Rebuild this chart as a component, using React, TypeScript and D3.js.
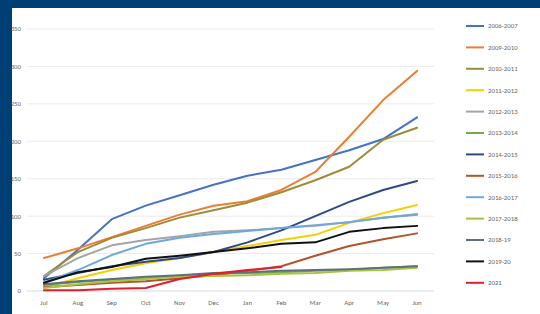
import React from "react";
import * as d3 from "d3";

const months = ["Jul", "Aug", "Sep", "Oct", "Nov", "Dec", "Jan", "Feb", "Mar", "Apr", "May", "Jun"];
const yTicks = [0, 50, 100, 150, 200, 250, 300, 350];

const seriesNames = [
  "2006-2007", "2009-2010", "2010-2011", "2011-2012", "2012-2013", "2013-2014", "2014-2015",
  "2015-2016", "2016-2017", "2017-2018", "2018-19", "2019-20", "2021",
];
const seriesColors = [
  "#4472C4", "#ED7D31", "#9C8C3C", "#F5D000", "#A5A5A5", "#70AD47", "#2E4A86",
  "#B0552A", "#6FA8DC", "#A9C23F", "#5F6F80", "#111111", "#E0202C",
];

const s2006 = [17, 55, 96, 114, 128, 142, 154, 162, 175, 188, 203, 232];
const s2009 = [44, 57, 72, 87, 102, 114, 120, 135, 159, 206, 255, 294];
const s2010 = [20, 52, 71, 84, 98, 108, 118, 132, 148, 166, 202, 218];
const s2011 = [5, 17, 28, 37, 44, 52, 60, 68, 75, 91, 104, 115];
const s2012 = [20, 44, 61, 68, 73, 79, 81, 84, 87, 92, 98, 103];
const s2013 = [8, 12, 15, 17, 20, 23, 24, 25, 27, 28, 31, 33];
const s2014 = [15, 24, 33, 39, 44, 52, 65, 81, 100, 119, 135, 147];
const s2015 = [5, 8, 11, 13, 17, 21, 27, 33, 47, 60, 69, 77];
const s2016 = [11, 28, 48, 63, 71, 76, 80, 84, 88, 92, 98, 102];
const s2017 = [4, 9, 13, 16, 19, 20, 21, 23, 24, 27, 28, 31];
const s2018 = [9, 13, 16, 19, 21, 24, 25, 27, 28, 29, 31, 33];
const s2019 = [11, 25, 32, 43, 47, 52, 57, 63, 65, 79, 84, 87];
const s2021 = [1, 1, 3, 4, 16, 23, 28, 32, null, null, null, null];

const allSeries = [s2006, s2009, s2010, s2011, s2012, s2013, s2014, s2015, s2016, s2017, s2018, s2019, s2021];

export default function App() {
  const W = 540, H = 314;
  const x = d3.scalePoint<string>().domain(months).range([27, 434]).padding(0.5);
  const y = d3.scaleLinear().domain([0, 350]).range([291, 29]);
  const line = d3
    .line<number | null>()
    .defined((d) => d !== null)
    .x((_, i) => x(months[i]) as number)
    .y((d) => y(d as number));

  const font = "Calibri, Carlito, 'Liberation Sans', Arial, sans-serif";
  const textColor = "#666666";
  return (
    <svg width={W} height={H} style={{ position: "absolute", left: 0, top: 0 }}>
      <rect x={0} y={0} width={W} height={H} fill="#003F74" />
      <rect x={12} y={8} width={W - 12} height={H - 8} fill="#ffffff" />
      {yTicks.map((t) => (
        <g key={t}>
          {t > 0 && <line x1={27} x2={434} y1={y(t)} y2={y(t)} stroke="#ebebeb" strokeWidth={1} />}
          <text x={21} y={y(t)} dy="0.35em" textAnchor="end" fontSize={6.8} fill={textColor} fontFamily={font}>
            {t}
          </text>
        </g>
      ))}
      <line x1={27} x2={434} y1={y(0)} y2={y(0)} stroke="#d9d9d9" strokeWidth={1} />
      {months.map((m) => (
        <text key={m} x={x(m)} y={305} textAnchor="middle" fontSize={6.8} fill={textColor} fontFamily={font}>
          {m}
        </text>
      ))}
      {allSeries.map((s, i) => (
        <path key={i} d={line(s) || ""} fill="none" stroke={seriesColors[i]} strokeWidth={2} strokeLinejoin="round" strokeLinecap="round" />
      ))}
      {seriesNames.map((n, i) => {
        const ly = 26 + i * 21.4;
        return (
          <g key={n}>
            <line x1={466} x2={484} y1={ly} y2={ly} stroke={seriesColors[i]} strokeWidth={2} />
            <text x={488} y={ly} dy="0.35em" fontSize={6.8} fill={textColor} fontFamily={font}>
              {n}
            </text>
          </g>
        );
      })}
    </svg>
  );
}
